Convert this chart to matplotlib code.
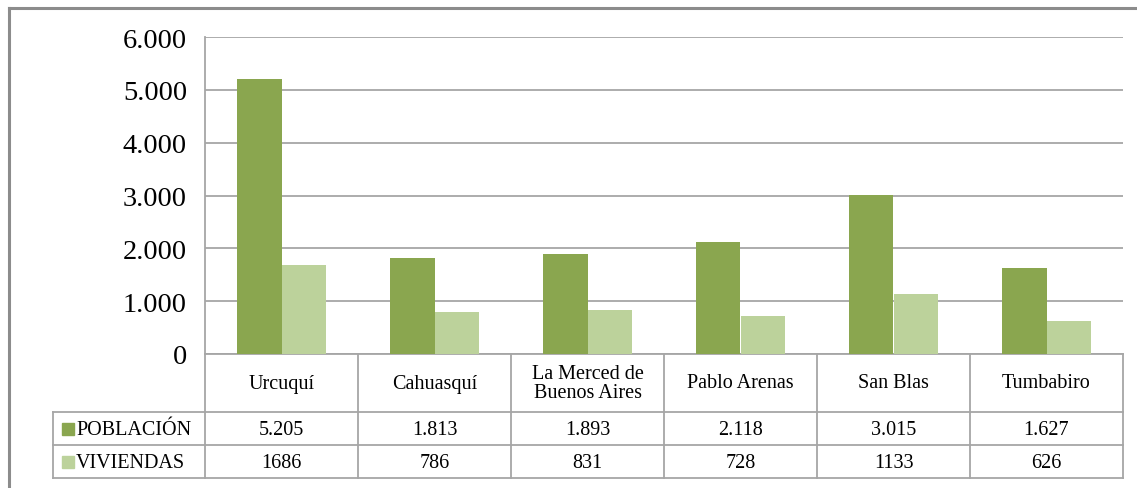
import numpy as np
import matplotlib
matplotlib.use("Agg")
import matplotlib.pyplot as plt
from matplotlib.patches import Rectangle

# data
parroquias = ["Urcuquí", "Cahuasquí", "La Merced de\nBuenos Aires", "Pablo Arenas", "San Blas", "Tumbabiro"]
poblacion = [5205, 1813, 1893, 2118, 3015, 1627]
viviendas = [1686, 786, 831, 728, 1133, 626]
pob_labels = ["5.205", "1.813", "1.893", "2.118", "3.015", "1.627"]
viv_labels = ["1686", "786", "831", "728", "1133", "626"]
series_names = ["POBLACIÓN", "VIVIENDAS"]
yticks = [0, 1000, 2000, 3000, 4000, 5000, 6000]
ytick_labels = ["0", "1.000", "2.000", "3.000", "4.000", "5.000", "6.000"]

dark = "#8aa64f"
light = "#bcd29b"
grid_c = "#a6a6a6"
font = "Liberation Serif"
tfs = 14.5

W, H = 1137, 489
fig = plt.figure(figsize=(W / 100, H / 100), dpi=100)

# outer frame of the chart object
fig.add_artist(plt.Line2D([9 / W, 9 / W], [0, 1 - 9 / H], color="#8c8c8c", lw=2.2))
fig.add_artist(plt.Line2D([9 / W, 1], [1 - 9 / H, 1 - 9 / H], color="#8c8c8c", lw=2.2))

# plot area
left, right, top, bottom = 205, 1123, 38, 355
ax = fig.add_axes([left / W, 1 - bottom / H, (right - left) / W, (bottom - top) / H])
x = np.arange(len(parroquias))
bw = 0.288
ax.bar(x - bw / 2, poblacion, bw, color=dark, zorder=3)
ax.bar(x + bw / 2, viviendas, bw, color=light, zorder=3)
ax.set_xlim(-0.5, len(parroquias) - 0.5)
ax.set_ylim(0, 6000)
ax.set_yticks(yticks)
ax.set_yticklabels(ytick_labels, fontsize=20.5, family=font)
ax.tick_params(axis="y", length=0, pad=13)
ax.set_xticks([])
ax.yaxis.grid(True, color=grid_c, lw=1.3)
for s in ["top", "right"]:
    ax.spines[s].set_visible(False)
ax.spines["left"].set_color(grid_c)
ax.spines["left"].set_linewidth(1.3)
ax.spines["bottom"].set_color(grid_c)
ax.spines["bottom"].set_linewidth(1.3)

# data table below the plot
tleft, tbottom = 53, 479
colw = (right - left) / len(parroquias)
lab_w = (left - tleft) / colw
axt = fig.add_axes([tleft / W, 1 - tbottom / H, (right - tleft) / W, (tbottom - bottom) / H])
axt.set_xlim(-0.5 - lab_w, len(parroquias) - 0.5)
axt.set_ylim(tbottom - bottom, 0)
axt.axis("off")
r0, r1, r2 = 58, 91, 124
lc = dict(color=grid_c, lw=1.3, clip_on=False)
axt.plot([-0.5 - lab_w, len(parroquias) - 0.5], [r0, r0], **lc)
axt.plot([-0.5 - lab_w, len(parroquias) - 0.5], [r1, r1], **lc)
axt.plot([-0.5 - lab_w, len(parroquias) - 0.5], [r2, r2], **lc)
axt.plot([-0.5 - lab_w, -0.5 - lab_w], [r0, r2], **lc)
for b in np.arange(len(parroquias) + 1) - 0.5:
    axt.plot([b, b], [0, r2], **lc)

for i, name in enumerate(parroquias):
    axt.text(i, r0 / 2, name, ha="center", va="center", fontsize=tfs, family=font, linespacing=1.05)
    axt.text(i, (r0 + r1) / 2 + 1, pob_labels[i], ha="center", va="center", fontsize=tfs, family=font)
    axt.text(i, (r1 + r2) / 2 + 1, viv_labels[i], ha="center", va="center", fontsize=tfs, family=font)

key = 12 / colw
for j, (nm, c) in enumerate(zip(series_names, [dark, light])):
    yc = (r0 + r1) / 2 if j == 0 else (r1 + r2) / 2
    x0 = -0.5 - lab_w + 9 / colw
    axt.add_patch(Rectangle((x0, yc - 6), key, 12, color=c, clip_on=False))
    axt.text(x0 + key + 2 / colw, yc + 1, nm, ha="left", va="center", fontsize=tfs, family=font)

fig.savefig("out.png", dpi=100)
